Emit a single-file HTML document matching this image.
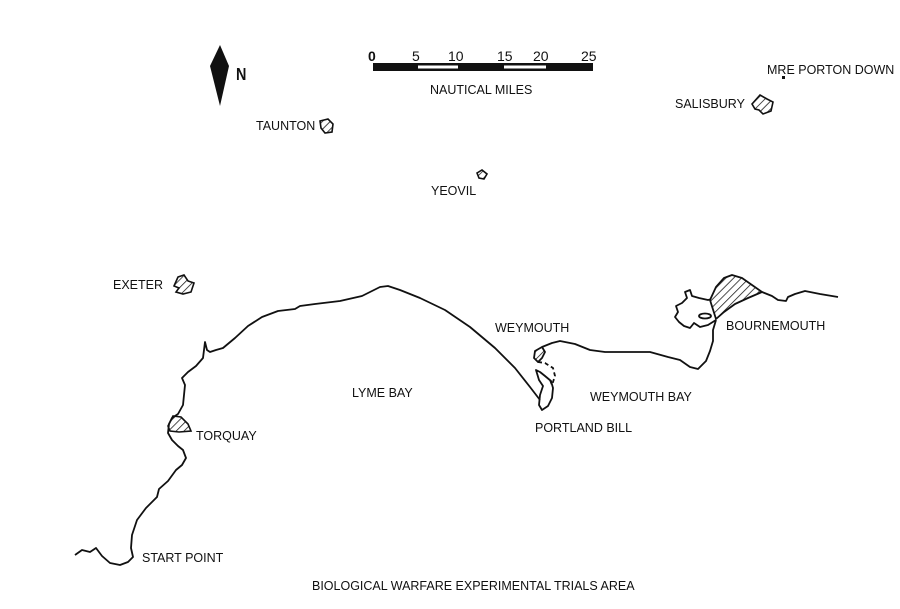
<!DOCTYPE html>
<html><head><meta charset="utf-8"><style>
html,body{margin:0;padding:0;background:#fff}
svg{display:block}
text{font-family:"Liberation Sans",Arial,sans-serif;font-size:12.5px;fill:#111}
</style></head><body>
<svg width="900" height="609" viewBox="0 0 900 609" xmlns="http://www.w3.org/2000/svg">
<defs>
<pattern id="h" width="5.5" height="5.5" patternUnits="userSpaceOnUse" patternTransform="rotate(45)">
<rect width="5.5" height="5.5" fill="#fff"/><line x1="0" y1="0" x2="0" y2="5.5" stroke="#111" stroke-width="1.5"/>
</pattern>
</defs>
<polygon points="220,45 229,66 220,106 210,66" fill="#111"/>
<text x="236" y="80" style="font-size:18px;font-weight:bold" transform="translate(236,80) scale(0.8,1) translate(-236,-80)">N</text>
<rect x="373" y="63" width="220" height="8" fill="#111"/>
<rect x="418" y="65.5" width="40" height="3" fill="#fff"/>
<rect x="504" y="65.5" width="42" height="3" fill="#fff"/>
<text x="368" y="61" style="font-size:14px;font-weight:bold">0</text><text x="412" y="61" style="font-size:14px">5</text><text x="448" y="61" style="font-size:14px">10</text><text x="497" y="61" style="font-size:14px">15</text><text x="533" y="61" style="font-size:14px">20</text><text x="581" y="61" style="font-size:14px">25</text>
<text x="430" y="94">NAUTICAL MILES</text>
<text x="256" y="130">TAUNTON</text>
<path d="M320,121 l8,-2 l5,5 l-1,8 l-7,1 l-4,-5z" fill="url(#h)" stroke="#111" stroke-width="1.6"/>
<text x="431" y="195">YEOVIL</text>
<path d="M477,173 l5,-3 l5,4 l-3,5 l-5,-1z" fill="url(#h)" stroke="#111" stroke-width="1.6"/>
<text x="675" y="108">SALISBURY</text>
<path d="M752,104 l8,-9 l7,4 l6,3 l-2,9 l-8,3 l-4,-4 l-4,-1z" fill="url(#h)" stroke="#111" stroke-width="1.6"/>
<text x="767" y="74">MRE PORTON DOWN</text>
<rect x="782" y="76" width="3" height="3" fill="#111"/>
<text x="113" y="289">EXETER</text>
<path d="M178,277 l6,-2 l4,6 l6,2 l-3,9 l-8,2 l-7,-2 l3,-4 l-5,-2z" fill="url(#h)" stroke="#111" stroke-width="1.6"/>
<text x="196" y="440">TORQUAY</text>
<path d="M168,426 l5,-10 l8,1 l7,7 l3,7 l-12,1 l-9,-1z" fill="url(#h)" stroke="#111" stroke-width="1.6"/>
<text x="142" y="562">START POINT</text>
<text x="352" y="397">LYME BAY</text>
<text x="495" y="332">WEYMOUTH</text>
<text x="590" y="401">WEYMOUTH BAY</text>
<text x="535" y="432">PORTLAND BILL</text>
<text x="726" y="330">BOURNEMOUTH</text>
<text x="312" y="590">BIOLOGICAL WARFARE EXPERIMENTAL TRIALS AREA</text>
<g fill="none" stroke="#111" stroke-width="1.8" stroke-linejoin="round">
<path d="M75,555 L82,550 L90,552 L96,548 L102,556 L110,563 L120,565 L128,562 L133,557 L131,548 L132,535 L137,520 L146,508 L157,497 L159,489 L168,481 L176,470 L182,465 L186,458 L183,450 L178,446 L172,440 L168,433 L169,424 L172,418 L178,414 L183,405 L184,395 L185,385 L182,378 L188,372 L196,366 L203,358 L205,342 L207,350 L210,352 L216,350 L223,348 L235,338 L248,326 L262,317 L278,311 L295,309 L300,306 L315,304 L340,301 L362,296 L380,287 L388,286 L400,290 L420,298 L445,310 L470,327 L495,348 L515,368 L530,387 L540,400"/>
<path d="M535,351 L542,347 L545,352 L542,358 L538,362 L534,358z" fill="url(#h)"/>
<path d="M538,362 L545,363 L553,368 L555,376 L552,385 L550,380" stroke-dasharray="4,3"/>
<path d="M536,370 L539,380 L543,386 L540,395 L539,405 L542,410 L548,406 L552,398 L553,388 L551,381 L545,376 L540,372z"/>
<path d="M542,347 L552,343 L560,341 L575,344 L590,350 L605,352 L625,352 L650,352 L668,357 L680,360 L690,367 L698,369 L706,361 L710,351 L713,341 L713,330 L716,320"/>
<path d="M716,320 L708,325 L700,327 L694,323 L690,328 L684,326 L679,322 L675,317 L678,312 L676,306 L682,303 L687,298 L685,292 L690,290 L692,296 L699,298 L708,300 L712,299"/>
<ellipse cx="705" cy="316" rx="6" ry="2.5"/>
<path d="M710,300 L716,287 L724,278 L732,275 L742,278 L752,285 L762,292 L748,298 L735,304 L724,312 L716,319z" fill="url(#h)"/>
<path d="M762,292 L772,296 L778,300 L786,301 L788,297 L795,294 L805,291 L820,294 L838,297"/>
</g>
</svg>
</body></html>
